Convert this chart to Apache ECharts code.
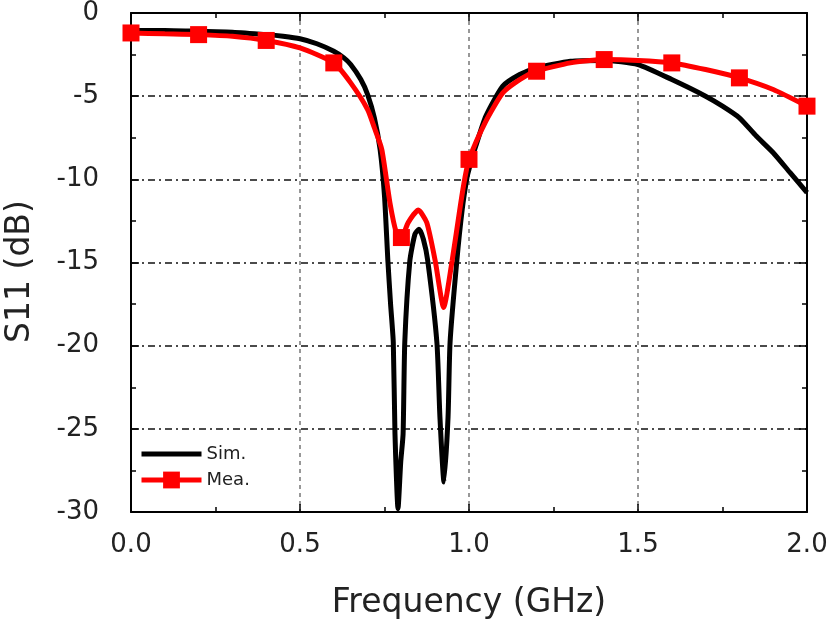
<!DOCTYPE html>
<html>
<head>
<meta charset="utf-8">
<script src="https://cdn.jsdelivr.net/npm/echarts@6/dist/echarts.min.js"></script>
<style>html,body{margin:0;padding:0;background:#fff}#c{width:827px;height:623px}</style>
</head>
<body>
<div id="c"></div>
<script>
// ---- data ----
const simFreq = [0, 0.1, 0.2, 0.3, 0.4, 0.45, 0.5, 0.55, 0.6, 0.63, 0.65, 0.68, 0.7, 0.72, 0.737, 0.75, 0.76, 0.768, 0.776, 0.781, 0.79, 0.798, 0.805, 0.81, 0.825, 0.84, 0.852, 0.865, 0.878, 0.905, 0.914, 0.926, 0.938, 0.944, 0.964, 0.98, 0.994, 1.0, 1.02, 1.05, 1.1, 1.15, 1.2, 1.3, 1.4, 1.5, 1.6, 1.7, 1.75, 1.8, 1.85, 1.9, 1.95, 2.0];
const simS11 = [-1.05, -1.05, -1.1, -1.15, -1.3, -1.4, -1.55, -1.85, -2.3, -2.7, -3.1, -4.0, -4.9, -6.3, -8.2, -11.0, -14.9, -17.5, -19.8, -25.3, -29.8, -27.0, -25.3, -19.8, -14.9, -13.3, -13.0, -13.6, -14.9, -19.8, -24.3, -28.2, -24.3, -19.8, -14.9, -11.8, -9.9, -9.4, -8.0, -6.2, -4.4, -3.7, -3.3, -2.9, -2.85, -3.1, -4.0, -5.0, -5.6, -6.3, -7.4, -8.4, -9.6, -10.8];
const meaFreq = [0, 0.1, 0.2, 0.3, 0.4, 0.5, 0.6, 0.65, 0.7, 0.72, 0.742, 0.766, 0.785, 0.8, 0.82, 0.85, 0.875, 0.9, 0.925, 0.95, 0.975, 0.988, 1.0, 1.05, 1.1, 1.15, 1.2, 1.3, 1.4, 1.5, 1.6, 1.7, 1.8, 1.9, 2.0];
const meaS11 = [-1.2, -1.25, -1.3, -1.4, -1.65, -2.1, -3.0, -4.2, -5.8, -6.9, -8.2, -11.4, -13.2, -13.5, -12.6, -11.85, -12.6, -14.9, -17.7, -14.9, -11.5, -9.9, -8.8, -6.5, -4.8, -4.0, -3.5, -3.0, -2.8, -2.85, -3.0, -3.4, -3.9, -4.6, -5.6];
const meaMarkerFreq = [0, 0.2, 0.4, 0.6, 0.8, 1.0, 1.2, 1.4, 1.6, 1.8, 2.0];
const seriesNames = ['Sim.', 'Mea.'];
const xTitle = 'Frequency (GHz)';
const yTitle = 'S11 (dB)';

// ---- chart ----
const FONT = 'DejaVu Sans';
const simData = simFreq.map((f, i) => [f, simS11[i]]);
const meaData = meaFreq.map((f, i) => {
  const isMarker = meaMarkerFreq.some(m => Math.abs(m - f) < 1e-9);
  return isMarker ? { value: [f, meaS11[i]] } : { value: [f, meaS11[i]], symbol: 'none' };
});

const axisLine = { show: true, onZero: false, lineStyle: { color: '#000', width: 2 } };
const tick = { show: true, inside: true, length: 8, lineStyle: { color: '#000', width: 1.5 } };
const minor = { show: true, splitNumber: 2, length: 5, lineStyle: { color: '#000', width: 1.5 } };

const chart = echarts.init(document.getElementById('c'), null, { renderer: 'canvas' });
chart.setOption({
  animation: false,
  backgroundColor: '#fff',
  grid: { left: 131, right: 20, top: 13, bottom: 111, containLabel: false, outerBoundsMode: 'none' },
  legend: {
    orient: 'vertical', left: 134, top: 440,
    itemWidth: 60, itemHeight: 21, itemGap: 8,
    lineStyle: { width: 5 },
    textStyle: { fontFamily: FONT, fontSize: 18, color: '#222' },
    data: [
      { name: seriesNames[0], itemStyle: { color: 'rgba(0,0,0,0)', borderWidth: 0 } },
      { name: seriesNames[1] }
    ]
  },
  xAxis: [{
    type: 'value', min: 0, max: 2, interval: 0.5,
    axisLine, axisTick: tick, minorTick: minor,
    axisLabel: { margin: 20, fontFamily: FONT, fontSize: 26, color: '#222', formatter: v => v.toFixed(1) },
    splitLine: { show: true, lineStyle: { color: '#777', width: 1.5, type: [4, 4] } },
    name: xTitle, nameLocation: 'middle', nameGap: 75,
    nameTextStyle: { fontFamily: FONT, fontSize: 33, color: '#222' }
  }, {
    type: 'value', position: 'top', min: 0, max: 2, interval: 0.5,
    axisLine, axisTick: tick, minorTick: minor,
    axisLabel: { show: false }, splitLine: { show: false }
  }],
  yAxis: [{
    type: 'value', min: -30, max: 0, interval: 5,
    axisLine, axisTick: tick, minorTick: minor,
    axisLabel: { margin: 32, fontFamily: FONT, fontSize: 26, color: '#222' },
    splitLine: { show: true, lineStyle: { color: '#111', width: 1.5, type: [7, 4, 2, 4] } },
    name: yTitle, nameLocation: 'middle', nameGap: 94, nameRotate: 90,
    nameTextStyle: { fontFamily: FONT, fontSize: 33, color: '#222', padding: [0, 18, 0, 0] }
  }, {
    type: 'value', position: 'right', min: -30, max: 0, interval: 5,
    axisLine, axisTick: tick, minorTick: minor,
    axisLabel: { show: false }, splitLine: { show: false }
  }],
  series: [{
    name: seriesNames[0], type: 'line', data: simData,
    showSymbol: false, symbol: 'none', smooth: 0.2,
    lineStyle: { color: '#000', width: 5 }, itemStyle: { color: '#000' }, z: 2
  }, {
    name: seriesNames[1], type: 'line', data: meaData,
    symbol: 'rect', symbolSize: 17, smooth: 0.2,
    lineStyle: { color: '#ff0000', width: 5 }, itemStyle: { color: '#ff0000' }, z: 3
  }]
});
</script>
</body>
</html>
